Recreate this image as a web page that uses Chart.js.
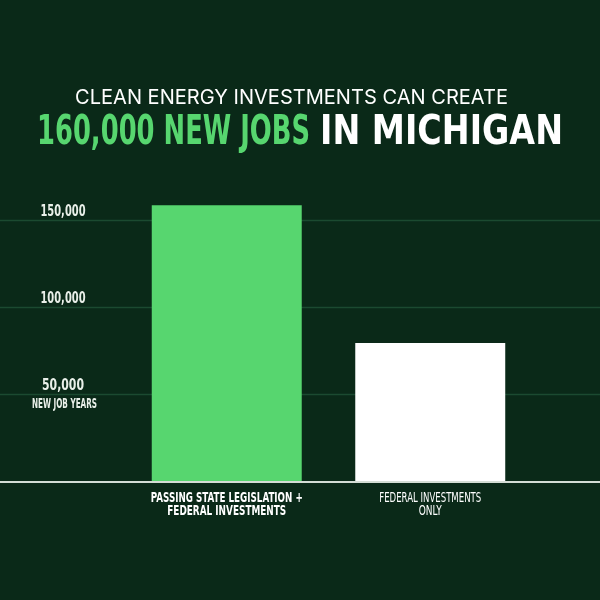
<!DOCTYPE html>
<html>
<head>
<meta charset="utf-8">
<script src="https://cdn.jsdelivr.net/npm/chart.js@4.4.1/dist/chart.umd.min.js"></script>
<style>
  html, body { margin: 0; padding: 0; background: #0a2918; }
  #wrap { width: 600px; height: 600px; position: relative; }
</style>
</head>
<body>
<div id="wrap"><canvas id="c" width="600" height="600"></canvas></div>
<script>
// ---- data ----
const categories = [
  ["PASSING STATE LEGISLATION +", "FEDERAL INVESTMENTS"],
  ["FEDERAL INVESTMENTS", "ONLY"]
];
const jobYears = [158500, 79300];
const yTickValues = [50000, 100000, 150000];
const yTickLabels = ["50,000", "100,000", "150,000"];
const yAxisUnit = "NEW JOB YEARS";
const titleLine1 = "CLEAN ENERGY INVESTMENTS CAN CREATE";
const titleHighlight = "160,000 NEW JOBS";
const titleRest = "IN MICHIGAN";

// ---- styles ----
const BG = "#0a2918";
const GREEN = "#57d66f";
const GRID = "#1b4a30";
const COND = "'DejaVu Sans Condensed', 'Liberation Sans Narrow', 'DejaVu Sans', sans-serif";

function fitText(ctx, text, x, y, width, font, color, align) {
  ctx.save();
  ctx.font = font;
  ctx.fillStyle = color;
  ctx.textBaseline = "alphabetic";
  ctx.textAlign = "left";
  const w = ctx.measureText(text).width;
  const sx = width / w;
  let left = x;
  if (align === "center") left = x - width / 2;
  ctx.translate(left, y);
  ctx.scale(sx, 1);
  ctx.fillText(text, 0, 0);
  ctx.restore();
}

const decor = {
  id: "decor",
  beforeDraw(chart) {
    const ctx = chart.ctx;
    ctx.save();
    ctx.fillStyle = BG;
    ctx.fillRect(0, 0, chart.width, chart.height);
    ctx.restore();
  },
  beforeDatasetsDraw(chart) {
    const ctx = chart.ctx;
    const y = chart.scales.y;
    ctx.save();
    ctx.strokeStyle = GRID;
    ctx.lineWidth = 1.5;
    yTickValues.forEach(v => {
      const py = Math.round(y.getPixelForValue(v)) + 0.5;
      ctx.beginPath();
      ctx.moveTo(0, py);
      ctx.lineTo(chart.width, py);
      ctx.stroke();
    });
    ctx.restore();
  },
  afterDatasetsDraw(chart) {
    const ctx = chart.ctx;
    const y = chart.scales.y;
    const x = chart.scales.x;
    // baseline axis line, full width
    const py0 = y.getPixelForValue(0);
    ctx.save();
    ctx.strokeStyle = "#d4ddd5";
    ctx.lineWidth = 2;
    ctx.beginPath();
    ctx.moveTo(0, py0 + 1);
    ctx.lineTo(chart.width, py0 + 1);
    ctx.stroke();
    ctx.restore();

    // y tick labels
    const yWidths = [42, 45, 45];
    yTickValues.forEach((v, i) => {
      const py = y.getPixelForValue(v);
      fitText(ctx, yTickLabels[i], 63, py - 4, yWidths[i], "bold 16px " + COND, "#e9efe9", "center");
    });
    fitText(ctx, yAxisUnit, 64.5, y.getPixelForValue(yTickValues[0]) + 14, 65, "bold 13.5px " + COND, "#e9efe9", "center");

    // x category labels
    const xw = [[152, 119], [102, 23]];
    categories.forEach((lines, i) => {
      const px = x.getPixelForValue(i);
      lines.forEach((ln, j) => {
        const weight = i === 0 ? "bold " : "";
        fitText(ctx, ln, px, py0 + 21 + j * 13, xw[i][j], weight + "14px " + COND, "#ffffff", "center");
      });
    });

    // title
    fitText(ctx, titleLine1, 75, 103.5, 433, "20px Inter, Roboto, sans-serif", "#ffffff", "left");
    fitText(ctx, titleHighlight, 37, 143.5, 273, "bold 40px " + COND, GREEN, "left");
    fitText(ctx, titleRest, 320, 143.5, 243, "bold 40px 'DejaVu Sans', sans-serif", "#ffffff", "left");
  }
};

new Chart(document.getElementById("c"), {
  type: "bar",
  data: {
    labels: categories,
    datasets: [{
      data: jobYears,
      backgroundColor: [GREEN, "#ffffff"],
      borderWidth: 0,
      barPercentage: 0.737,
      categoryPercentage: 1.0
    }]
  },
  options: {
    responsive: false,
    animation: false,
    devicePixelRatio: 1,
    layout: { padding: { left: 125, right: 68, top: 176.5, bottom: 0 } },
    plugins: { legend: { display: false }, tooltip: { enabled: false }, title: { display: false } },
    scales: {
      x: {
        display: true,
        grid: { display: false },
        border: { display: false },
        ticks: { display: false },
        afterFit(scale) { scale.height = 119; }
      },
      y: {
        display: false,
        min: 0,
        max: 175000
      }
    }
  },
  plugins: [decor]
});
</script>
</body>
</html>
